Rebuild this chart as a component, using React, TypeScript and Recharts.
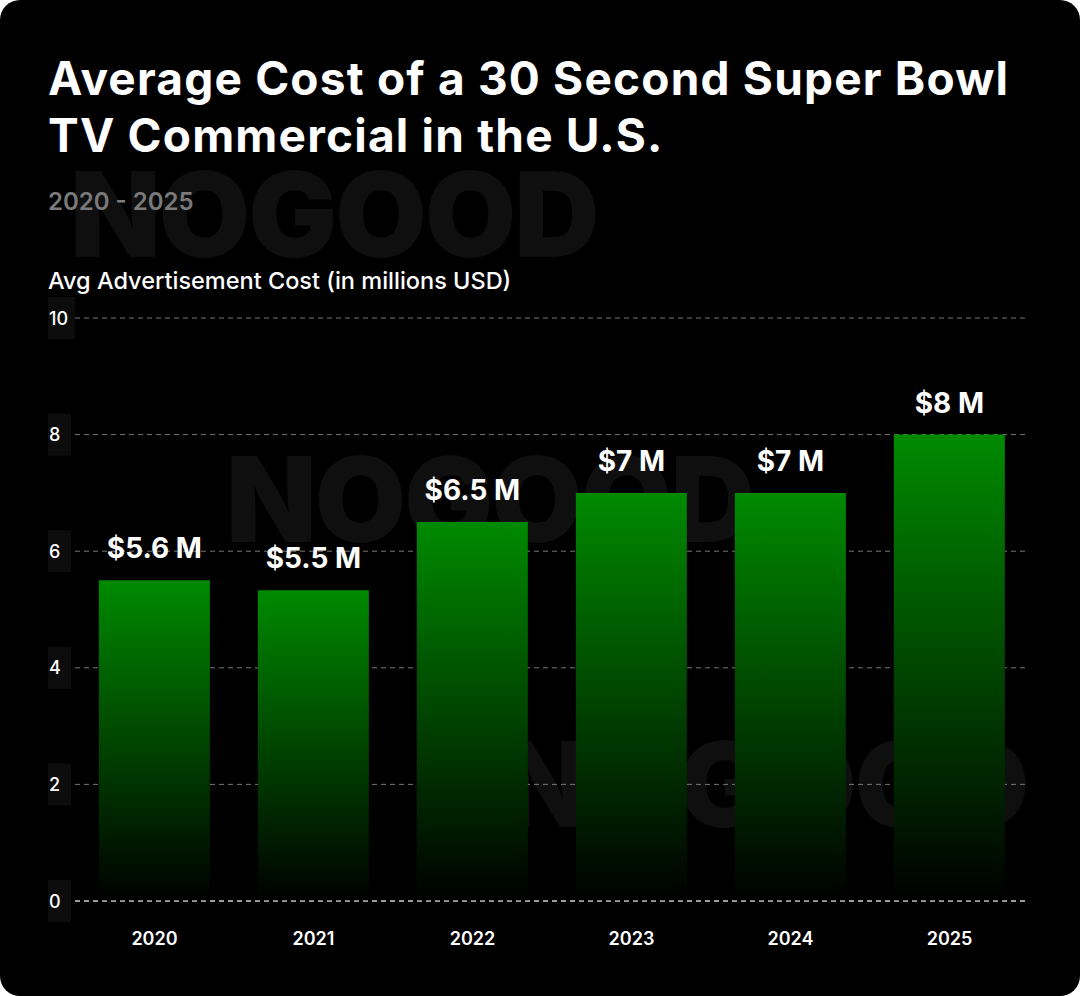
import {
  BarChart,
  Bar,
  XAxis,
  YAxis,
  CartesianGrid,
  ReferenceLine,
  LabelList,
} from "recharts";

const YEARS = ["2020", "2021", "2022", "2023", "2024", "2025"];
const COSTS = [5.5, 5.33, 6.5, 7, 7, 8];
const COST_LABELS = ["$5.6 M", "$5.5 M", "$6.5 M", "$7 M", "$7 M", "$8 M"];
const Y_TICKS = [0, 2, 4, 6, 8, 10];

const data = YEARS.map((year, i) => ({
  year,
  cost: COSTS[i],
  label: COST_LABELS[i],
}));

const FONT = "Inter, 'Noto Sans', sans-serif";

const YTick = (props: any) => {
  const { y, payload } = props;
  const txt = String(payload.value);
  const w = txt.length > 1 ? 27 : 23;
  return (
    <g>
      <rect x={48} y={y - 21} width={w} height={42} fill="#0c0c0c" />
      <text
        x={49}
        y={y}
        dominantBaseline="central"
        fill="#fff"
        fontSize={18}
        fontFamily={FONT}
        fontWeight={500}
      >
        {txt}
      </text>
    </g>
  );
};

const XTick = (props: any) => {
  const { x, payload } = props;
  return (
    <text
      x={x}
      y={938}
      textAnchor="middle"
      dominantBaseline="central"
      fill="#fff"
      fontSize={18}
      fontFamily={FONT}
      fontWeight={600}
    >
      {payload.value}
    </text>
  );
};

const watermark = (left: number, top: number) => (
  <div
    style={{
      position: "absolute",
      left,
      top,
      fontFamily: FONT,
      fontWeight: 900,
      fontSize: 118,
      lineHeight: "118px",
      color: "#0f0f0f",
      letterSpacing: -2,
    }}
  >
    NOGOOD
  </div>
);

export default function App() {
  return (
    <div
      style={{
        position: "absolute",
        left: 0,
        top: 0,
        width: 1080,
        height: 996,
        background: "#000",
        borderRadius: 20,
        overflow: "hidden",
        fontFamily: FONT,
      }}
    >
      {watermark(70, 155)}
      {watermark(226, 440)}
      {watermark(500, 725)}
      <div
        style={{
          position: "absolute",
          left: 48,
          top: 50,
          color: "#fff",
          fontSize: 46,
          fontWeight: 700,
          lineHeight: "57px",
          letterSpacing: 1.2,
        }}
      >
        Average Cost of a 30 Second Super Bowl
        <br />
        TV Commercial in the U.S.
      </div>
      <div
        style={{
          position: "absolute",
          left: 48,
          top: 187,
          color: "#7a7a7a",
          fontSize: 24,
          fontWeight: 600,
        }}
      >
        2020 - 2025
      </div>
      <div
        style={{
          position: "absolute",
          left: 48,
          top: 266,
          color: "#fff",
          fontSize: 23.5,
          fontWeight: 500,
        }}
      >
        Avg Advertisement Cost (in millions USD)
      </div>
      <div style={{ position: "absolute", left: 0, top: 0 }}>
        <BarChart
          width={1080}
          height={996}
          data={data}
          margin={{ top: 318, right: 51, left: 35, bottom: 0 }}
          barCategoryGap="15%"
        >
          <defs>
            <linearGradient id="barFill" x1="0" y1="0" x2="0" y2="1">
              <stop offset="0%" stopColor="#008a00" />
              <stop offset="100%" stopColor="#000000" />
            </linearGradient>
          </defs>
          <CartesianGrid
            vertical={false}
            stroke="#777"
            strokeDasharray="5 4"
          />
          <XAxis
            dataKey="year"
            height={95}
            axisLine={false}
            tickLine={false}
            tick={<XTick />}
          />
          <YAxis
            width={40}
            domain={[0, 10]}
            ticks={Y_TICKS}
            axisLine={false}
            tickLine={false}
            tick={<YTick />}
          />
          <Bar dataKey="cost" fill="url(#barFill)" isAnimationActive={false}>
            <LabelList
              dataKey="label"
              position="top"
              offset={22}
              fill="#fff"
              fontSize={28}
              fontWeight={700}
              fontFamily={FONT}
            />
          </Bar>
          <ReferenceLine y={0} stroke="#fff" strokeDasharray="5 4" />
        </BarChart>
      </div>
    </div>
  );
}
